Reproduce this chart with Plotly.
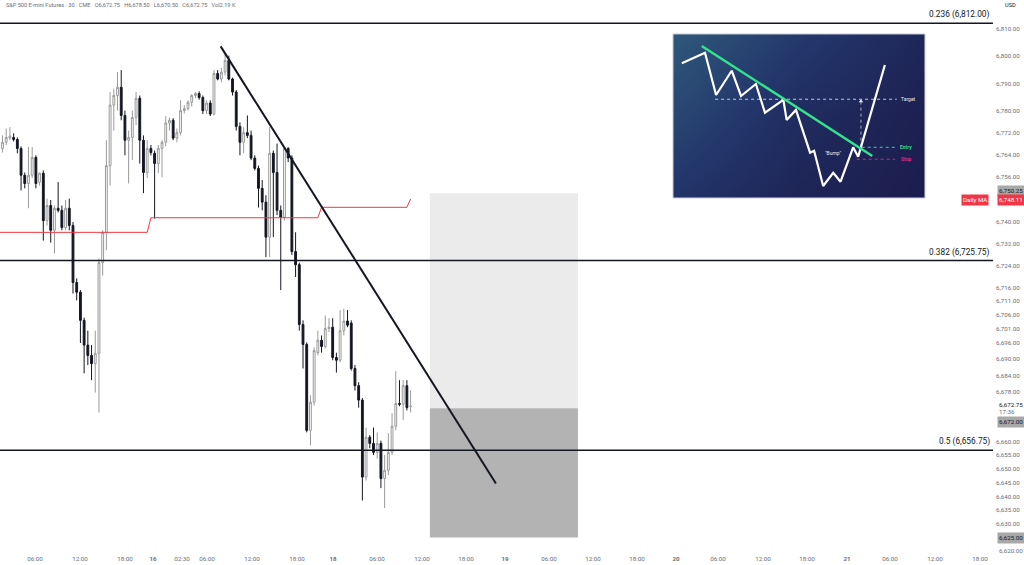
import plotly.graph_objects as go

# ---------------- data ----------------
opens = [6766.5, 6768.75, 6770.25, 6770.5, 6769.75, 6766.5, 6756.75, 6753.75, 6756.75, 6763.25,
         6754.25, 6757.5, 6740.25, 6745.75, 6736.75, 6744.75, 6744.0, 6737.75, 6744.75, 6738.5,
         6717.75, 6714.25, 6704.0, 6695.0, 6691.25, 6688.25, 6692.0, 6725.0, 6736.0, 6760.25,
         6782.25, 6785.75, 6788.75, 6778.5, 6769.5, 6770.5, 6777.75, 6784.75, 6769.5, 6757.75,
         6766.5, 6764.75, 6761.0, 6766.5, 6768.75, 6775.75, 6776.75, 6770.25, 6772.25, 6780.25,
         6781.0, 6783.25, 6785.75, 6786.5, 6785.0, 6780.25, 6783.0, 6779.0, 6793.75, 6791.75,
         6794.25, 6798.5, 6791.75, 6787.0, 6774.5, 6768.75, 6772.25, 6771.25, 6763.0, 6759.25,
         6752.0, 6747.0, 6734.25, 6764.75, 6757.75, 6744.0, 6741.5, 6766.5, 6763.0, 6729.0,
         6724.25, 6702.5, 6695.25, 6664.0, 6674.25, 6692.25, 6696.75, 6694.5, 6701.0, 6701.5,
         6690.5, 6689.5, 6700.25, 6703.75, 6703.0, 6686.5, 6680.25, 6675.0, 6647.0, 6661.5,
         6659.25, 6656.0, 6659.25, 6646.5, 6649.5, 6656.0, 6665.5, 6673.75, 6673.5, 6680.25,
         6672.75]
highs = [6771.25, 6773.75, 6774.25, 6772.0, 6770.5, 6767.25, 6757.75, 6767.0, 6767.0, 6764.0,
         6757.75, 6758.5, 6748.25, 6747.75, 6745.75, 6754.25, 6745.75, 6747.75, 6748.25, 6739.75,
         6719.25, 6715.0, 6705.0, 6700.25, 6695.0, 6700.25, 6726.5, 6736.75, 6769.5, 6787.0,
         6788.25, 6794.25, 6795.0, 6780.25, 6773.0, 6780.25, 6787.0, 6785.75, 6771.25, 6769.5,
         6767.75, 6765.75, 6767.75, 6769.5, 6778.25, 6777.75, 6777.5, 6773.75, 6784.0, 6782.25,
         6784.0, 6786.25, 6787.0, 6787.25, 6785.75, 6784.0, 6784.0, 6795.0, 6795.0, 6795.75,
         6801.0, 6800.25, 6792.25, 6787.75, 6776.0, 6774.25, 6778.5, 6773.0, 6764.0, 6760.25,
         6755.0, 6749.5, 6774.25, 6765.75, 6768.25, 6745.75, 6767.0, 6767.0, 6764.0, 6736.0,
         6725.0, 6704.0, 6696.0, 6676.75, 6694.25, 6700.25, 6698.5, 6705.75, 6704.75, 6704.75,
         6692.25, 6707.75, 6708.25, 6707.75, 6704.0, 6687.75, 6681.5, 6675.75, 6665.0, 6662.25,
         6665.0, 6663.25, 6660.25, 6655.0, 6663.0, 6670.25, 6685.5, 6682.25, 6682.25, 6682.25,
         6678.5]
lows = [6765.0, 6767.75, 6769.5, 6769.0, 6764.75, 6751.25, 6752.0, 6744.75, 6755.75, 6752.0,
        6753.0, 6733.0, 6738.5, 6732.25, 6728.25, 6743.25, 6736.75, 6736.75, 6736.75, 6713.75,
        6711.25, 6695.75, 6684.75, 6687.75, 6682.25, 6677.75, 6670.5, 6720.25, 6729.5, 6753.0,
        6773.0, 6780.25, 6776.75, 6764.0, 6753.75, 6762.25, 6775.0, 6761.0, 6750.25, 6755.75,
        6764.0, 6741.0, 6757.5, 6756.0, 6767.25, 6773.0, 6769.5, 6768.75, 6771.25, 6779.25,
        6780.25, 6781.75, 6784.75, 6784.25, 6779.0, 6779.0, 6778.25, 6778.5, 6791.25, 6790.5,
        6793.0, 6791.25, 6785.75, 6773.0, 6764.0, 6764.75, 6770.25, 6762.25, 6758.5, 6745.0,
        6744.0, 6727.0, 6727.0, 6734.25, 6742.25, 6715.0, 6740.25, 6761.5, 6727.75, 6719.75,
        6700.25, 6686.5, 6663.25, 6658.5, 6673.0, 6691.25, 6692.25, 6693.75, 6699.75, 6689.5,
        6685.0, 6688.75, 6698.5, 6701.5, 6685.75, 6678.5, 6672.25, 6638.5, 6645.75, 6657.5,
        6655.0, 6653.75, 6643.0, 6635.75, 6647.75, 6655.0, 6664.0, 6672.75, 6667.75, 6671.25,
        6670.5]
closes = [6768.75, 6770.5, 6771.0, 6769.75, 6766.5, 6756.75, 6753.75, 6756.75, 6763.25, 6753.75,
          6757.5, 6740.25, 6745.75, 6736.75, 6744.75, 6744.0, 6737.75, 6744.75, 6738.5, 6717.75,
          6714.25, 6704.0, 6695.0, 6691.25, 6688.25, 6692.0, 6725.0, 6736.0, 6760.25, 6782.25,
          6785.75, 6788.75, 6778.5, 6769.5, 6770.5, 6777.75, 6784.75, 6769.5, 6757.75, 6766.5,
          6765.0, 6761.0, 6766.5, 6768.75, 6775.75, 6776.75, 6770.25, 6772.25, 6780.25, 6781.0,
          6783.25, 6785.75, 6786.5, 6785.0, 6780.25, 6783.0, 6779.0, 6793.75, 6791.75, 6794.25,
          6798.5, 6791.75, 6787.0, 6774.5, 6768.75, 6772.25, 6771.25, 6763.0, 6759.25, 6752.0,
          6747.0, 6734.25, 6764.75, 6757.75, 6744.0, 6741.5, 6766.5, 6763.0, 6729.0, 6724.25,
          6702.5, 6695.25, 6664.0, 6674.25, 6693.0, 6696.75, 6694.5, 6701.0, 6701.5, 6690.5,
          6689.5, 6700.25, 6703.75, 6702.25, 6686.5, 6680.25, 6675.0, 6647.0, 6661.5, 6659.25,
          6656.0, 6659.25, 6646.5, 6649.5, 6656.0, 6665.5, 6673.75, 6673.5, 6680.25, 6672.25,
          6672.75]
bars = list(range(len(opens)))

# daily moving average (step line), one value per bar from bar -1
ma_bars = list(range(-1, 111))
ma_values = [6736.0] * 41 + [6741.3] * 46 + [6745.1] * 24 + [6748.11]

# fibonacci levels
fib_levels = [6812.00, 6725.75, 6656.75]
fib_labels = ["0.236 (6,812.00)", "0.382 (6,725.75)", "0.5 (6,656.75)"]

# descending trendline (bar index, price)
trend_bars = [58.8, 133.0]
trend_prices = [6803.6, 6644.7]

# long position tool
box_bars = [115.2, 155.1]
target_zone = [6672.00, 6750.25]
stop_zone = [6625.00, 6672.00]

# axes
y_ticks = [6810, 6800, 6790, 6780, 6772, 6764, 6756, 6740, 6732, 6724, 6716, 6711, 6706,
           6701, 6696, 6690, 6684, 6678, 6660, 6655, 6650, 6645, 6640, 6635, 6630]
x_tick_bars = [8.76, 20.89, 33.02, 40.57, 48.38, 55.12, 67.25, 79.38, 89.08, 100.94, 113.07,
               124.93, 135.44, 147.30, 159.16, 171.02, 181.54, 192.86, 204.99, 216.85, 227.63,
               239.22, 251.35, 263.48]
x_tick_labels = ["06:00", "12:00", "18:00", "16", "02:30", "06:00", "12:00", "18:00", "18",
                 "06:00", "12:00", "18:00", "19", "06:00", "12:00", "18:00", "20", "06:00",
                 "12:00", "18:00", "21", "06:00", "12:00", "18:00"]

# inset illustration (normalised 0..1 coordinates)
inset_path_x = [0.035, 0.127, 0.171, 0.233, 0.270, 0.329, 0.365, 0.438, 0.451, 0.488, 0.544,
                0.560, 0.596, 0.636, 0.665, 0.715, 0.735, 0.841]
inset_path_y = [0.821, 0.886, 0.628, 0.776, 0.622, 0.695, 0.520, 0.598, 0.476, 0.537, 0.276,
                0.288, 0.073, 0.154, 0.099, 0.309, 0.252, 0.811]
inset_trend_x = [0.114, 0.791]
inset_trend_y = [0.927, 0.256]
inset_target_x = [0.167, 0.888]
inset_target_y = [0.602, 0.602]
inset_entry_x = [0.749, 0.881]
inset_entry_y = [0.309, 0.309]
inset_stop_x = [0.729, 0.881]
inset_stop_y = [0.236, 0.236]
inset_arrow_x = [0.746, 0.746]
inset_arrow_y = [0.313, 0.590]
inset_bg_grid = [[0.45, 0.15, 0.0], [0.75, 0.30, 0.05], [1.0, 0.55, 0.2]]

# ---------------- figure ----------------
TXT = "#131722"
GREY = "#6a6d78"
FONT = "Roboto"

fig = go.Figure()

fig.add_trace(go.Candlestick(
    x=bars, open=opens, high=highs, low=lows, close=closes,
    increasing=dict(line=dict(color="#9a9a9a", width=1), fillcolor="#ffffff"),
    decreasing=dict(line=dict(color=TXT, width=1), fillcolor=TXT),
    whiskerwidth=0, showlegend=False, hoverinfo="skip"))

fig.add_trace(go.Scatter(x=ma_bars, y=ma_values, mode="lines",
                         line=dict(color="#f23645", width=1), showlegend=False, hoverinfo="skip"))

fig.add_trace(go.Scatter(x=trend_bars, y=trend_prices, mode="lines",
                         line=dict(color=TXT, width=2), showlegend=False, hoverinfo="skip"))

shapes = []
shapes.append(dict(type="rect", xref="x", yref="y", x0=box_bars[0], x1=box_bars[1],
                   y0=target_zone[0], y1=target_zone[1], fillcolor="#ebebeb",
                   line=dict(width=0), layer="below"))
shapes.append(dict(type="rect", xref="x", yref="y", x0=box_bars[0], x1=box_bars[1],
                   y0=stop_zone[0], y1=stop_zone[1], fillcolor="#b3b3b3",
                   line=dict(width=0), layer="below"))
for lv in fib_levels:
    shapes.append(dict(type="line", xref="paper", yref="y", x0=0, x1=1.003, y0=lv, y1=lv,
                       line=dict(color=TXT, width=1.5)))

annotations = []
for lv, lab in zip(fib_levels, fib_labels):
    annotations.append(dict(xref="paper", yref="y", x=1.002, y=lv, text=lab, showarrow=False,
                            xanchor="right", yanchor="bottom", yshift=1,
                            font=dict(family=FONT, size=8.3, color=TXT)))

# header + currency
annotations.append(dict(xref="paper", yref="paper", x=0.004, y=1.028, xanchor="left",
                        yanchor="middle", showarrow=False,
                        text="S&P 500 E-mini Futures · 30 · CME   O6,672.75   H6,678.50   L6,670.50   C6,672.75   Vol2.19 K",
                        font=dict(family=FONT, size=5.6, color=GREY)))
annotations.append(dict(xref="paper", yref="paper", x=1.013, y=1.028, xanchor="left",
                        yanchor="middle", showarrow=False, text="USD",
                        font=dict(family=FONT, size=5.6, color=TXT)))

# right axis tags
def tag(y, text, bg, fg, yshift=0, x=1.007, xanchor="left"):
    annotations.append(dict(xref="paper", yref="y", x=x, y=y, xanchor=xanchor,
                            yanchor="middle", showarrow=False, text=text, bgcolor=bg,
                            borderpad=1, yshift=yshift,
                            font=dict(family=FONT, size=6.2, color=fg)))

tag(target_zone[1], "6,750.25", "#a8a8a8", TXT, yshift=2)
tag(ma_values[-1], "6,748.11", "#f23645", "#ffffff", yshift=-1)
tag(ma_values[-1], "Daily MA", "#f23645", "#ffffff", yshift=-1, x=0.999, xanchor="right")
tag(closes[-1], "6,672.75", None, TXT, yshift=1)
tag(closes[-1], "17:36", None, GREY, yshift=-6)
tag(target_zone[0], "6,672.00", "#a8a8a8", TXT, yshift=-14)
tag(stop_zone[0], "6,625.00", "#a8a8a8", TXT)
annotations.append(dict(xref="paper", yref="paper", x=1.007, y=-0.002, xanchor="left",
                        yanchor="middle", showarrow=False, text="6,620.00",
                        font=dict(family=FONT, size=6.2, color=GREY)))

# ---------------- inset ----------------
fig.add_trace(go.Heatmap(z=inset_bg_grid, x=[0, 0.5, 1], y=[0, 0.5, 1], zsmooth="best",
                         colorscale=[[0, "#1c1d4e"], [0.5, "#23366b"], [1, "#2f587a"]],
                         showscale=False, hoverinfo="skip", xaxis="x2", yaxis="y2"))
fig.add_trace(go.Scatter(x=inset_target_x, y=inset_target_y, mode="lines",
                         line=dict(color="#c8c8d8", width=1, dash="dot"),
                         xaxis="x2", yaxis="y2", showlegend=False, hoverinfo="skip"))
fig.add_trace(go.Scatter(x=inset_entry_x, y=inset_entry_y, mode="lines",
                         line=dict(color="#2fd88a", width=1, dash="dot"),
                         xaxis="x2", yaxis="y2", showlegend=False, hoverinfo="skip"))
fig.add_trace(go.Scatter(x=inset_stop_x, y=inset_stop_y, mode="lines",
                         line=dict(color="#d8247c", width=1, dash="dot"),
                         xaxis="x2", yaxis="y2", showlegend=False, hoverinfo="skip"))
fig.add_trace(go.Scatter(x=inset_arrow_x, y=inset_arrow_y, mode="lines",
                         line=dict(color="#d0d0e0", width=0.8, dash="dot"),
                         xaxis="x2", yaxis="y2", showlegend=False, hoverinfo="skip"))
fig.add_trace(go.Scatter(x=inset_arrow_x[1:], y=inset_arrow_y[1:], mode="markers",
                         marker=dict(symbol="triangle-up", size=4, color="#e0e0ea"),
                         xaxis="x2", yaxis="y2", showlegend=False, hoverinfo="skip"))
fig.add_trace(go.Scatter(x=inset_path_x, y=inset_path_y, mode="lines",
                         line=dict(color="#ffffff", width=2.2),
                         xaxis="x2", yaxis="y2", showlegend=False, hoverinfo="skip"))
fig.add_trace(go.Scatter(x=inset_trend_x, y=inset_trend_y, mode="lines",
                         line=dict(color="#35e38c", width=2.5),
                         xaxis="x2", yaxis="y2", showlegend=False, hoverinfo="skip"))

for txt, xx, yy, col in [("Target", 0.895, inset_target_y[0], "#e8e8f0"),
                         ("<b>Entry</b>", 0.893, inset_entry_y[0], "#2fd88a"),
                         ("<b>Stop</b>", 0.895, inset_stop_y[0], "#e0247e")]:
    annotations.append(dict(xref="x2", yref="y2", x=xx, y=yy, text=txt, showarrow=False,
                            xanchor="left", yanchor="middle",
                            font=dict(family=FONT, size=5, color=col)))
annotations.append(dict(xref="x2", yref="y2", x=0.636, y=0.273, text='"Bump"', showarrow=False,
                        xanchor="center", yanchor="middle",
                        font=dict(family=FONT, size=5, color="#e8e8f0")))
shapes.append(dict(type="rect", xref="x2 domain", yref="y2 domain", x0=0, x1=1, y0=0, y1=1,
                   line=dict(color="#c9cbd6", width=1), fillcolor="rgba(0,0,0,0)"))

fig.update_layout(
    width=1024, height=565,
    margin=dict(l=0, r=34, t=20, b=15),
    paper_bgcolor="#ffffff", plot_bgcolor="#ffffff",
    shapes=shapes, annotations=annotations,
    showlegend=False,
    xaxis=dict(range=[-0.674, 266.17], rangeslider=dict(visible=False), showgrid=False,
               zeroline=False, showline=False, ticks="", ticklabelstandoff=4,
               tickmode="array", tickvals=x_tick_bars,
               ticktext=[(f"<b>{t}</b>" if len(t) == 2 else t) for t in x_tick_labels],
               tickfont=dict(family=FONT, size=6.2, color=GREY)),
    yaxis=dict(range=[6620.5, 6813.2], side="right", showgrid=False, zeroline=False,
               showline=False, ticks="", ticklabelstandoff=5, tickmode="array",
               tickvals=y_ticks, ticktext=[f"{v:,.2f}" for v in y_ticks],
               tickfont=dict(family=FONT, size=6.2, color=GREY)),
    xaxis2=dict(domain=[0.6798, 0.9343], range=[0, 1], anchor="y2", visible=False,
                fixedrange=True),
    yaxis2=dict(domain=[0.6642, 0.9736], range=[0, 1], anchor="x2", visible=False,
                fixedrange=True),
)

fig.write_html("out.html", config={"displayModeBar": False},
               post_script="document.body.style.margin='0';document.body.style.overflow='hidden';")
